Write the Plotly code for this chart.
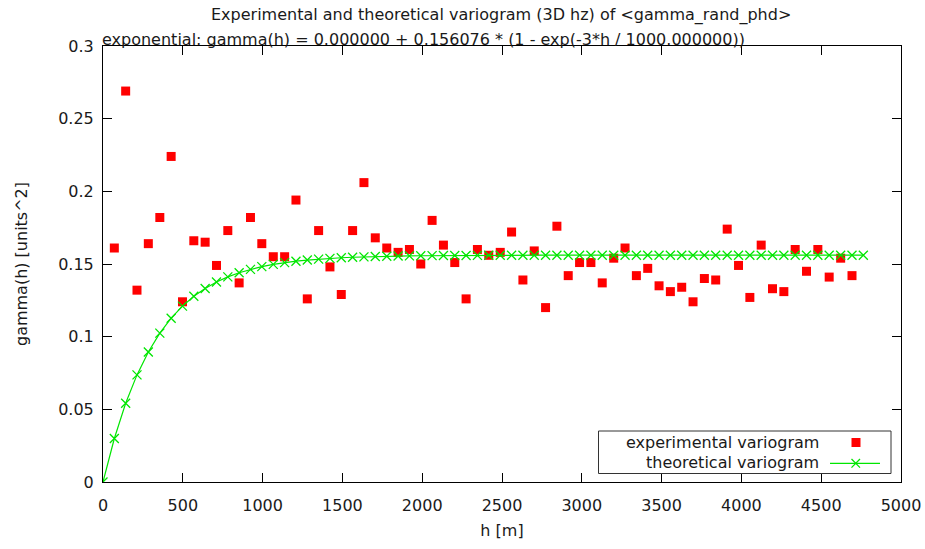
import numpy as np
import plotly.graph_objects as go

# Lag centres h [m] of the experimental variogram bins
lags = [71, 142, 213, 284, 356, 427, 498, 569, 640, 711, 782, 853, 924, 995,
        1067, 1138, 1209, 1280, 1351, 1422, 1493, 1564, 1635, 1706, 1778, 1849,
        1920, 1991, 2062, 2133, 2204, 2275, 2346, 2417, 2489, 2560, 2631, 2702,
        2773, 2844, 2915, 2986, 3057, 3128, 3200, 3271, 3342, 3413, 3484, 3555,
        3626, 3697, 3768, 3839, 3911, 3982, 4053, 4124, 4195, 4266, 4337, 4408,
        4479, 4550, 4622, 4693]

# Experimental semivariance per lag
gamma_exp = [0.161, 0.269, 0.132, 0.164, 0.182, 0.224, 0.124, 0.166, 0.165, 0.149,
             0.173, 0.137, 0.182, 0.164, 0.155, 0.155, 0.194, 0.126, 0.173, 0.148,
             0.129, 0.173, 0.206, 0.168, 0.161, 0.158, 0.160, 0.150, 0.180, 0.163,
             0.151, 0.126, 0.160, 0.156, 0.158, 0.172, 0.139, 0.159, 0.120, 0.176,
             0.142, 0.151, 0.151, 0.137, 0.154, 0.161, 0.142, 0.147, 0.135, 0.131,
             0.134, 0.124, 0.140, 0.139, 0.174, 0.149, 0.127, 0.163, 0.133, 0.131,
             0.160, 0.145, 0.160, 0.141, 0.154, 0.142]

# Fitted exponential model parameters
nugget = 0.0
sill = 0.156076
model_range = 1000.0

# Model evaluated at h = 0 and at each lag, plus one lag beyond the last bin
h_model = np.array([0] + lags + [4764], dtype=float)
gamma_model = nugget + sill * (1 - np.exp(-3 * h_model / model_range))

x_ticks = [0, 500, 1000, 1500, 2000, 2500, 3000, 3500, 4000, 4500, 5000]
y_ticks = [0, 0.05, 0.1, 0.15, 0.2, 0.25, 0.3]

W, H = 925, 549
ML, MR, MT, MB = 103, 24, 46, 67
PW, PH = W - ML - MR, H - MT - MB

FONT = "DejaVu Sans"
FS = 16
RED = "#ff0000"
GREEN = "#00e600"
TEXT = "#1a1a1a"


def px(x):
    return (x - ML) / PW


def py(y):
    return (H - MB - y) / PH


fig = go.Figure()
fig.add_trace(go.Scatter(
    x=lags, y=gamma_exp, mode="markers", name="experimental variogram",
    marker=dict(symbol="square", size=9, color=RED, line=dict(width=0)),
    showlegend=False,
))
fig.add_trace(go.Scatter(
    x=h_model, y=gamma_model, mode="lines+markers", name="theoretical variogram",
    line=dict(color=GREEN, width=1.2),
    marker=dict(symbol="x-thin", size=9, color=GREEN,
                line=dict(color=GREEN, width=1.3)),
    showlegend=False,
))

axis_common = dict(
    showgrid=False, zeroline=False, showline=True, linecolor="black",
    linewidth=1, mirror="ticks", ticks="inside", ticklen=9, tickwidth=1,
    tickcolor="black", tickfont=dict(family=FONT, size=FS, color=TEXT),
)
fig.update_xaxes(range=[0, 5000], tickvals=x_ticks,
                 ticktext=[str(v) for v in x_ticks], ticklabelstandoff=9,
                 title=dict(text="h [m]", font=dict(family=FONT, size=FS, color=TEXT),
                            standoff=10),
                 **axis_common)
fig.update_yaxes(range=[0, 0.3], tickvals=y_ticks,
                 ticktext=["0", "0.05", "0.1", "0.15", "0.2", "0.25", "0.3"],
                 ticklabelstandoff=5,
                 title=dict(text="gamma(h) [units^2]",
                            font=dict(family=FONT, size=FS, color=TEXT),
                            standoff=26),
                 **axis_common)

annotations = [
    dict(text="Experimental and theoretical variogram (3D hz) of &lt;gamma_rand_phd&gt;",
         xref="paper", yref="paper", x=px(501), y=py(15), xanchor="center",
         yanchor="middle", showarrow=False,
         font=dict(family=FONT, size=FS, color=TEXT)),
    dict(text="exponential: gamma(h) = 0.000000 + 0.156076 * (1 - exp(-3*h / 1000.000000))",
         xref="paper", yref="paper", x=px(100), y=py(39), xanchor="left",
         yanchor="middle", showarrow=False,
         font=dict(family=FONT, size=FS, color=TEXT)),
    dict(text="experimental variogram", xref="paper", yref="paper",
         x=px(821), y=py(442.5), xanchor="right", yanchor="middle",
         showarrow=False, font=dict(family=FONT, size=FS, color=TEXT)),
    dict(text="theoretical variogram", xref="paper", yref="paper",
         x=px(821), y=py(462.5), xanchor="right", yanchor="middle",
         showarrow=False, font=dict(family=FONT, size=FS, color=TEXT)),
]

shapes = [
    # key box
    dict(type="rect", xref="paper", yref="paper",
         x0=px(598.5), x1=px(891), y0=py(431), y1=py(473.5),
         line=dict(color="#333333", width=1), fillcolor="white", layer="above"),
    # experimental sample
    dict(type="rect", xref="paper", yref="paper",
         x0=px(851.5), x1=px(860.5), y0=py(438), y1=py(447),
         line=dict(width=0), fillcolor=RED, layer="above"),
    # theoretical sample
    dict(type="line", xref="paper", yref="paper",
         x0=px(830), x1=px(880), y0=py(463.3), y1=py(463.3),
         line=dict(color=GREEN, width=1.2), layer="above"),
    dict(type="line", xref="paper", yref="paper",
         x0=px(851.5), x1=px(860), y0=py(459), y1=py(467.6),
         line=dict(color=GREEN, width=1.3), layer="above"),
    dict(type="line", xref="paper", yref="paper",
         x0=px(851.5), x1=px(860), y0=py(467.6), y1=py(459),
         line=dict(color=GREEN, width=1.3), layer="above"),
]

fig.update_layout(
    width=W, height=H,
    margin=dict(l=ML, r=MR, t=MT, b=MB, autoexpand=False),
    paper_bgcolor="white", plot_bgcolor="white",
    font=dict(family=FONT, size=FS, color=TEXT),
    annotations=annotations, shapes=shapes,
    showlegend=False,
)

fig.write_html("out.html")
